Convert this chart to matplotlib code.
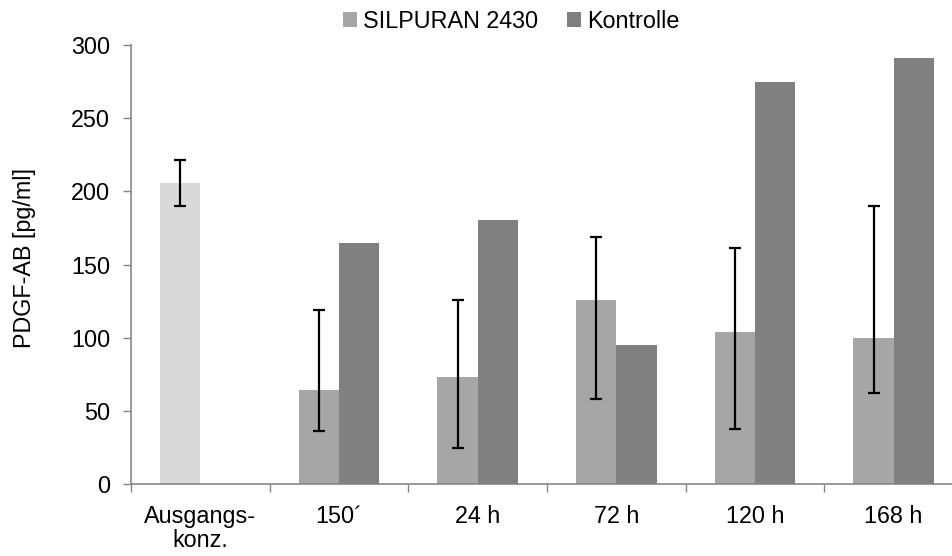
import matplotlib
matplotlib.use("Agg")
import matplotlib.pyplot as plt
import numpy as np

categories = ["Ausgangs-\nkonz.", "150\u00b4", "24 h", "72 h", "120 h", "168 h"]

# Starting concentration (first category only)
start_value = 205.5
start_err_low = 190.0
start_err_high = 221.5

# SILPURAN 2430 (time points after the start)
silpuran = [64.3, 73.4, 125.6, 103.7, 99.6]
silpuran_err_low = [36.2, 25.0, 58.2, 37.5, 62.1]
silpuran_err_high = [119.1, 125.9, 168.7, 161.4, 189.8]

# Kontrolle
kontrolle = [164.8, 180.3, 95.3, 274.9, 290.8]

yticks = [0, 50, 100, 150, 200, 250, 300]

plt.rcParams["font.family"] = ["Liberation Sans", "DejaVu Sans"]
FS = 16.8

fig = plt.figure(figsize=(9.53, 5.56), dpi=100)
ax = fig.add_axes([131 / 953, (556 - 484.3) / 556, (963 - 131) / 953, (484.3 - 45) / 556])

width = 0.29
x_all = np.arange(len(categories))
x_t = x_all[1:]

c_start = "#d9d9d9"
c_sil = "#a6a6a6"
c_kon = "#808080"

ax.bar(x_all[0] - width / 2, start_value, width, color=c_start, zorder=2)
b1 = ax.bar(x_t - width / 2, silpuran, width, color=c_sil, label="SILPURAN 2430", zorder=2)
b2 = ax.bar(x_t + width / 2, kontrolle, width, color=c_kon, label="Kontrolle", zorder=2)

err_kw = dict(fmt="none", ecolor="black", elinewidth=1.6, capsize=4.5, capthick=1.6, zorder=3)
ax.errorbar([x_all[0] - width / 2], [start_value],
            yerr=[[start_value - start_err_low], [start_err_high - start_value]], **err_kw)
sil = np.array(silpuran)
ax.errorbar(x_t - width / 2, sil,
            yerr=[sil - np.array(silpuran_err_low), np.array(silpuran_err_high) - sil], **err_kw)

ax.set_xlim(-0.5, len(categories) - 0.5)
ax.set_ylim(0, 300)
ax.set_yticks(yticks)
ax.tick_params(axis="y", labelsize=FS, length=6, width=1, color="#868686", pad=9, direction="out")

# Category boundaries as major ticks, labels on minor ticks at centers
ax.set_xticks(np.arange(-0.5, len(categories) - 0.5, 1.0))
ax.set_xticklabels([])
ax.set_xticks(x_all, minor=True)
ax.set_xticklabels(categories, minor=True, fontsize=FS, linespacing=1.05)
ax.tick_params(axis="x", which="major", length=5.5, width=1, color="#868686", direction="out")
ax.tick_params(axis="x", which="minor", length=0, pad=15)

for side in ["top", "right"]:
    ax.spines[side].set_visible(False)
for side in ["left", "bottom"]:
    ax.spines[side].set_color("#868686")
    ax.spines[side].set_linewidth(1.2)

ax.set_ylabel("PDGF-AB [pg/ml]", fontsize=FS)
ax.yaxis.set_label_coords((36 - 131) / 832, 0.515)

fig.legend(handles=[b1, b2], loc="center", bbox_to_anchor=(511 / 953, 1 - 21 / 556), ncol=2,
           frameon=False, fontsize=FS, handlelength=0.6, handleheight=0.6,
           handletextpad=0.25, columnspacing=1.25, borderpad=0)

fig.savefig("out.png", dpi=100)
